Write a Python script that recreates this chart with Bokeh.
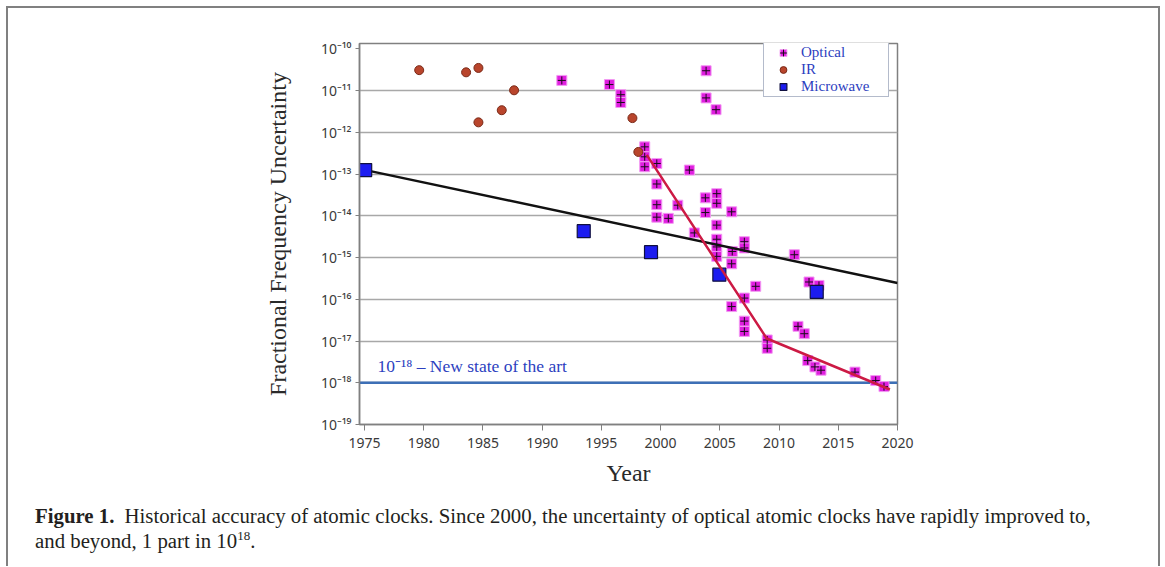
from bokeh.plotting import figure
from bokeh.layouts import row, column
from bokeh.models import (Range1d, FixedTicker, Span, Label, Spacer, Div,
                          Legend, LegendItem)
from bokeh.embed import file_html
from bokeh.resources import INLINE

# ---------------- data ----------------
optical_year = [1991.66, 1995.68, 1996.64, 1996.64, 2003.84, 2003.84, 2004.68,
                1998.66, 1998.66, 1998.66, 1999.68, 2002.43, 1999.68, 1999.68,
                1999.68, 2000.65, 2001.45, 2003.78, 2003.78, 2004.74, 2004.74,
                2006.00, 2004.74, 2002.85, 2004.74, 2004.74, 2004.74, 2006.05,
                2006.00, 2007.07, 2007.07, 2008.03, 2007.07, 2006.00, 2007.07,
                2007.07, 2009.00, 2009.00, 2011.29, 2012.53, 2013.37, 2011.60,
                2012.13, 2012.42, 2013.03, 2013.54, 2016.41, 2018.16, 2018.86]
optical_unc = [1.76e-11, 1.40e-11, 8.0e-12, 5.2e-12, 3.0e-11, 6.7e-12, 3.5e-12,
               4.5e-13, 2.6e-13, 1.5e-13, 1.8e-13, 1.25e-13, 5.8e-14, 1.85e-14,
               9.3e-15, 8.7e-15, 1.8e-14, 2.7e-14, 1.2e-14, 3.4e-14, 2.0e-14,
               1.25e-14, 6.0e-15, 3.9e-15, 2.75e-15, 1.8e-15, 1.07e-15, 1.4e-15,
               7.1e-16, 2.4e-15, 1.7e-15, 2.05e-16, 1.07e-16, 6.7e-17, 3.0e-17,
               1.7e-17, 1.06e-17, 6.7e-18, 1.17e-15, 2.6e-16, 2.15e-16, 2.25e-17,
               1.5e-17, 3.4e-18, 2.4e-18, 2.0e-18, 1.8e-18, 1.13e-18, 8.1e-19]

ir_year = [1979.62, 1983.58, 1984.62, 1984.62, 1986.59, 1987.63, 1997.62, 1998.12]
ir_unc = [3.1e-11, 2.75e-11, 3.5e-11, 1.74e-12, 3.4e-12, 1.02e-11, 2.2e-12, 3.4e-13]

mw_year = [1975.06, 1993.51, 1999.19, 2004.96, 2013.18]
mw_unc = [1.25e-13, 4.3e-15, 1.35e-15, 3.9e-16, 1.5e-16]

mw_trend_year = [1974.8, 2020.0]
mw_trend_unc = [1.3e-13, 2.45e-16]

optical_trend_year = [1998.83, 2008.96, 2019.36]
optical_trend_unc = [2.9e-13, 1.15e-17, 6.9e-19]

state_of_art = 1e-18

x_ticks = [1975, 1980, 1985, 1990, 1995, 2000, 2005, 2010, 2015, 2020]
y_ticks = [1e-10, 1e-11, 1e-12, 1e-13, 1e-14, 1e-15, 1e-16, 1e-17, 1e-18, 1e-19]
y_tick_labels = ["10⁻¹⁰", "10⁻¹¹", "10⁻¹²", "10⁻¹³", "10⁻¹⁴", "10⁻¹⁵",
                 "10⁻¹⁶", "10⁻¹⁷", "10⁻¹⁸", "10⁻¹⁹"]

legend_labels = ["Optical", "IR", "Microwave"]
x_title = "Year"
y_title = "Fractional Frequency Uncertainty"
note_text = "10⁻¹⁸ – New state of the art"
caption_head = "Figure 1."
caption_line1 = ("Historical accuracy of atomic clocks. Since 2000, the uncertainty "
                 "of optical atomic clocks have rapidly improved to,")
caption_line2_pre = "and beyond, 1 part in 10"
caption_line2_sup = "18"
caption_line2_post = "."

# ---------------- geometry ----------------
OX, OY = 8, 8            # page position of the chart canvas
W, H1 = 1150, 490        # chart canvas
ML, MT, FW, FH = 351, 35, 538, 381
MR = W - ML - FW
MB = H1 - MT - FH
H2 = 566 - (OY + H1)     # caption block

p = figure(width=W, height=H1, y_axis_type="log",
           x_range=Range1d(1974.58, 2020.0), y_range=Range1d(1e-19, 10 ** -9.87),
           output_backend="svg", toolbar_location=None,
           min_border_left=ML, min_border_right=MR,
           min_border_top=MT, min_border_bottom=MB,
           x_axis_label=x_title, y_axis_label=y_title)
p.background_fill_color = "white"
p.border_fill_color = "white"
p.outline_line_color = "#808080"
p.outline_line_width = 1.5

p.xaxis.ticker = FixedTicker(ticks=x_ticks)
p.yaxis.ticker = FixedTicker(ticks=y_ticks)
p.yaxis.major_label_overrides = dict(zip(y_ticks, y_tick_labels))
for ax in (p.xaxis, p.yaxis):
    ax.axis_line_color = "#808080"
    ax.axis_line_width = 1.5
    ax.major_tick_line_color = "#808080"
    ax.minor_tick_line_color = None
    ax.major_tick_in = 0
    ax.major_label_text_font = "Noto Sans"
    ax.major_label_text_font_size = "14px"
    ax.major_label_text_color = "#3a3a3a"
    ax.axis_label_text_font = "Liberation Serif"
    ax.axis_label_text_font_style = "normal"
    ax.axis_label_text_font_size = "24px"
    ax.axis_label_text_color = "#2a2a2a"
p.xaxis.major_tick_out = 6
p.xaxis.major_label_standoff = 7
p.xaxis.axis_label_standoff = 9
p.yaxis.major_tick_out = 4
p.yaxis.major_label_standoff = 4
p.yaxis.axis_label_standoff = 27

p.xgrid.visible = False
p.ygrid.ticker = FixedTicker(ticks=y_ticks[1:-1])
p.ygrid.grid_line_color = "#a8a8a8"
p.ygrid.grid_line_width = 1.5

p.add_layout(Span(location=state_of_art, dimension="width", line_color="#3d6fb6",
                  line_width=2.5, level="underlay"))

opt_sq = p.scatter(optical_year, optical_unc, marker="square", size=10,
                   fill_color="#e01ee0", line_color="#f29af2", line_width=1)
opt_x = p.scatter(optical_year, optical_unc, marker="cross", size=8,
                  line_color="#1a0a1a", line_width=1)
ir = p.scatter(ir_year, ir_unc, marker="circle", size=9,
               fill_color="#b9452c", line_color="#7a2a18", line_width=1)
p.line(mw_trend_year, mw_trend_unc, line_color="#111111", line_width=2.5)
mw = p.scatter(mw_year, mw_unc, marker="square", size=13,
               fill_color="#1c1cf0", line_color="#101040", line_width=1.2)
p.line(optical_trend_year, optical_trend_unc, line_color="#cc1a44", line_width=2.5)

legend = Legend(items=[LegendItem(label=legend_labels[0], renderers=[opt_sq, opt_x]),
                       LegendItem(label=legend_labels[1], renderers=[ir]),
                       LegendItem(label=legend_labels[2], renderers=[mw])],
                location=(404, 327), orientation="vertical",
                label_text_font="Liberation Serif", label_text_font_size="15px",
                label_text_color="#2d3ec0",
                glyph_height=17, glyph_width=36, label_height=17, label_width=86,
                spacing=0, padding=1, label_standoff=0, margin=0,
                border_line_color="#6a7797", border_line_width=1.5,
                background_fill_color="white", background_fill_alpha=1)
p.add_layout(legend)

# note above the 1e-18 line (screen units, relative to the frame)
p.add_layout(Label(x=377 - (OX + ML), y=FH * (1 / 9.13) + 17,
                   x_units="screen", y_units="screen",
                   text=note_text, text_font="Liberation Serif",
                   text_font_size="17.5px", text_color="#2c3fc0",
                   text_baseline="middle"))

# ---------------- caption ----------------
cap_html = (
    '<div style="padding:5px 0 0 27px; font-family:\'Liberation Serif\'; '
    'font-size:20.8px; line-height:25px; color:#231f20; white-space:nowrap;">'
    '<b>' + caption_head + '</b> <span style="margin-left:5px">' + caption_line1 +
    '</span><br>' + caption_line2_pre +
    '<sup style="font-size:13px; vertical-align:8px; line-height:0;">' +
    caption_line2_sup + '</sup>' + caption_line2_post + '</div>')
cap = Div(text=cap_html, width=W, height=H2, margin=0)

# ---------------- page layout with thin grey panel border ----------------
grey = {"background-color": "#808080"}
inner = column(Spacer(width=W, height=2, styles=grey), p, cap, spacing=0)
body = row(Spacer(width=6, height=2 + H1 + H2),
           Spacer(width=2, height=2 + H1 + H2, styles=grey),
           inner,
           Spacer(width=2, height=2 + H1 + H2, styles=grey), spacing=0)
page = column(Spacer(width=6 + 2 + W + 2, height=6), body, spacing=0)

open("out.html", "w").write(file_html(page, INLINE))
